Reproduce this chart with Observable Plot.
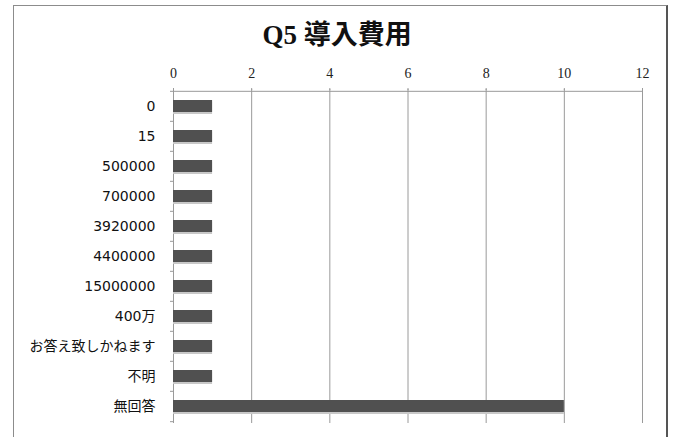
<!DOCTYPE html>
<html>
<head>
<meta charset="utf-8">
<script src="https://cdn.jsdelivr.net/npm/d3@7"></script>
<script src="https://cdn.jsdelivr.net/npm/@observablehq/plot@0.6"></script>
<style>
  html, body { margin: 0; padding: 0; background: #fff; }
  #wrap { position: relative; width: 673px; height: 437px; overflow: hidden; }
  #border { position: absolute; left: 13px; top: 5px; width: 652px; height: 450px;
            border-top: 1px solid #8c8c8c; border-left: 1px solid #8c8c8c; border-right: 2px solid #555; }
  #chart { position: absolute; left: 0; top: 0; }
</style>
</head>
<body>
<div id="wrap"><div id="border"></div><div id="chart"></div></div>
<script>
const title = "Q5 導入費用";
const categories = ["0", "15", "500000", "700000", "3920000", "4400000", "15000000", "400万", "お答え致しかねます", "不明", "無回答"];
const counts = [1, 1, 1, 1, 1, 1, 1, 1, 1, 1, 10];
const xTicks = [0, 2, 4, 6, 8, 10, 12];

const data = categories.map((c, i) => ({category: c, count: counts[i]}));

const W = 673, H = 437;
const mL = 173, mR = 31, mT = 89, mB = 14;
const step = (H - mT - mB) / categories.length;
const frameCenter = mL + (W - mL - mR) / 2;

const chart = Plot.plot({
  width: W,
  height: H,
  marginLeft: mL,
  marginRight: mR,
  marginTop: mT,
  marginBottom: mB,
  style: {background: "transparent", overflow: "visible"},
  x: {domain: [0, 12], axis: null, label: null},
  y: {domain: categories, padding: 0, axis: null, label: null},
  marks: [
    Plot.gridX(xTicks, {stroke: "#9a9a9a", strokeOpacity: 1, strokeWidth: 1}),
    Plot.ruleY([categories[0]], {x1: 0, x2: 12, dy: -step / 2, stroke: "#9a9a9a"}),
    Plot.axisX({anchor: "top", label: null, ticks: xTicks, tickSize: 2, tickPadding: 10, stroke: "#9a9a9a",
      fontFamily: "'Liberation Serif', serif", fontSize: 14, fill: "#222"}),
    Plot.axisY({label: null, tickSize: 0, tickPadding: 18, fontFamily: "'DejaVu Sans', 'Noto Sans CJK JP', sans-serif", fontSize: 14, fill: "#111"}),
    Plot.axisY({label: null, text: null, tickSize: 3, dy: -step / 2, stroke: "#9a9a9a"}),
    Plot.axisY({label: null, ticks: [categories[categories.length - 1]], text: null, tickSize: 3, dy: step / 2, stroke: "#9a9a9a"}),
    Plot.barX(data, {x: "count", y: "category", fill: "#c8c8c8", insetTop: 11, insetBottom: 7}),
    Plot.barX(data, {x: "count", y: "category", fill: "#505050", insetTop: 9, insetBottom: 9}),
    Plot.text([title], {frameAnchor: "top", lineAnchor: "middle", dx: W / 2 - frameCenter, dy: -54, fontFamily: "'Liberation Serif', 'Noto Sans CJK JP', serif",
      fontSize: 27, fontWeight: "bold", fill: "#111"})
  ]
});
document.getElementById("chart").appendChild(chart);
</script>
</body>
</html>
